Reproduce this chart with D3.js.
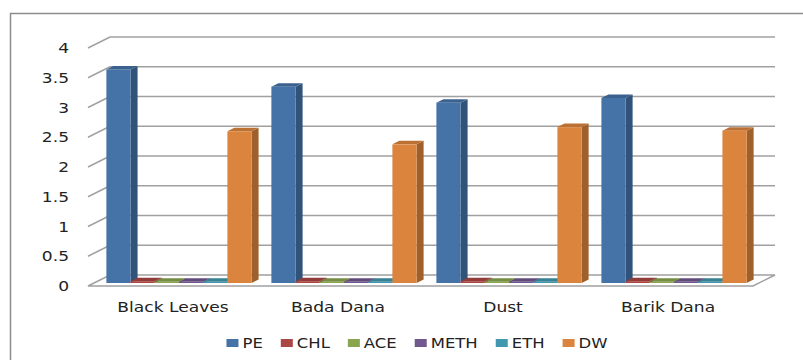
<!DOCTYPE html>
<html>
<head>
<meta charset="utf-8">
<script src="https://cdn.jsdelivr.net/npm/d3@7"></script>
<style>
  body { margin: 0; background: #fff; }
  text { font-family: "DejaVu Sans", sans-serif; fill: #222; }
</style>
</head>
<body>
<script>
// data
let categories = ["Black Leaves", "Bada Dana", "Dust", "Barik Dana"];
let series = ["PE", "CHL", "ACE", "METH", "ETH", "DW"];
let PE   = [3.59, 3.30, 3.03, 3.11];
let CHL  = [0.03, 0.03, 0.03, 0.03];
let ACE  = [0.02, 0.02, 0.02, 0.02];
let METH = [0.02, 0.02, 0.02, 0.02];
let ETH  = [0.02, 0.02, 0.02, 0.02];
let DW   = [2.55, 2.33, 2.62, 2.56];
let yTicks = [0, 0.5, 1, 1.5, 2, 2.5, 3, 3.5, 4];

let values = { PE: PE, CHL: CHL, ACE: ACE, METH: METH, ETH: ETH, DW: DW };
let colors = {
  PE:   "#4572a7",
  CHL:  "#aa4643",
  ACE:  "#89a54e",
  METH: "#71588f",
  ETH:  "#4198af",
  DW:   "#db843d"
};

init();

function init() {
  let width = 803, height = 360;
  let sx = 1.22; // text in the reference is stretched sideways

  let svg = d3.select("body")
              .append("svg")
              .attr("width", width)
              .attr("height", height);

  // outer frame (cut off at right and bottom)
  svg.append("path")
     .attr("d", "M10.5," + height + "V13.5H" + width)
     .attr("fill", "none")
     .attr("stroke", "#8c8c8c")
     .attr("stroke-width", 1.5);

  // front plane of the floor
  let y = d3.scaleLinear().domain([0, 4]).range([286, 48]);
  let x0 = d3.scaleBand().domain(categories).range([88, 753])
             .paddingInner(0.12).paddingOuter(0.075);
  let x1 = d3.scaleBand().domain(series).range([0, x0.bandwidth()]);

  let depth = { dx: 22, dy: -11 };     // back wall offset
  let barOff = { dx: 6, dy: -3 };      // bar front plane offset
  let barDepth = { dx: 7, dy: -3.5 };  // bar thickness

  let g = svg.append("g");

  // back wall gridlines
  g.selectAll(".grid")
   .data(yTicks.filter(d => d > 0))
   .join("line")
   .attr("x1", 88 + depth.dx)
   .attr("x2", 753 + depth.dx)
   .attr("y1", d => y(d) + depth.dy)
   .attr("y2", d => y(d) + depth.dy)
   .attr("stroke", "#a0a0a0")
   .attr("stroke-width", 1.5);

  // diagonal tick lines on the side
  g.selectAll(".diag")
   .data(yTicks.filter(d => d > 0))
   .join("line")
   .attr("x1", 88)
   .attr("y1", d => y(d))
   .attr("x2", 88 + depth.dx)
   .attr("y2", d => y(d) + depth.dy)
   .attr("stroke", "#a0a0a0")
   .attr("stroke-width", 1.5);

  // floor
  let y0 = y(0);
  g.append("path")
   .attr("d", "M88," + y0 + "L753," + y0 + "L" + (753 + depth.dx) + "," + (y0 + depth.dy) +
              "L" + (88 + depth.dx) + "," + (y0 + depth.dy) + "Z")
   .attr("fill", "#fff")
   .attr("stroke", "#a0a0a0")
   .attr("stroke-width", 1.5);

  // tick labels
  g.selectAll(".ylab")
   .data(yTicks)
   .join("text")
   .attr("transform", d => "translate(69," + (y(d) + 5) + ") scale(" + sx + ",1)")
   .attr("text-anchor", "end")
   .style("font-size", "14px")
   .text(d => d);

  // bars, painted left to right
  let bars = [];
  categories.forEach((c, i) => {
    series.forEach(s => {
      bars.push({ cat: c, s: s, v: values[s][i] });
    });
  });

  let bg = g.selectAll(".bar")
            .data(bars)
            .join("g");

  bg.each(function(d) {
    let el = d3.select(this);
    let xl = x0(d.cat) + x1(d.s) + barOff.dx;
    let xr = xl + x1.bandwidth();
    let yb = y(0) + barOff.dy;
    let yt = y(d.v) + barOff.dy;
    let c = d3.color(colors[d.s]);

    // side face
    el.append("path")
      .attr("d", "M" + xr + "," + yb + "L" + xr + "," + yt +
                 "L" + (xr + barDepth.dx) + "," + (yt + barDepth.dy) +
                 "L" + (xr + barDepth.dx) + "," + (yb + barDepth.dy) + "Z")
      .attr("fill", c.darker(0.9));
    // top face
    el.append("path")
      .attr("d", "M" + xl + "," + yt + "L" + xr + "," + yt +
                 "L" + (xr + barDepth.dx) + "," + (yt + barDepth.dy) +
                 "L" + (xl + barDepth.dx) + "," + (yt + barDepth.dy) + "Z")
      .attr("fill", c.darker(0.45));
    // front face
    el.append("rect")
      .attr("x", xl)
      .attr("y", yt)
      .attr("width", x1.bandwidth())
      .attr("height", yb - yt)
      .attr("fill", c);
  });

  // category labels
  g.selectAll(".xlab")
   .data(categories)
   .join("text")
   .attr("transform", d => "translate(" + (x0(d) + x0.bandwidth() / 2) + ",312) scale(" + sx + ",1)")
   .attr("text-anchor", "middle")
   .style("font-size", "14px")
   .text(d => d);

  // legend
  let lg = svg.append("g");
  let lx = 0;
  series.forEach(s => {
    let item = lg.append("g").attr("transform", "translate(" + lx + ",0)");
    item.append("rect")
        .attr("x", 0).attr("y", 339)
        .attr("width", 12).attr("height", 8)
        .attr("fill", colors[s]);
    let t = item.append("text")
        .attr("transform", "translate(16,348) scale(" + sx + ",1)")
        .style("font-size", "13.5px")
        .text(s);
    lx += 16 + t.node().getComputedTextLength() * sx + 18;
  });
  let lw = lx - 18;
  lg.attr("transform", "translate(" + (417 - lw / 2) + ",0)");
}
</script>
</body>
</html>
